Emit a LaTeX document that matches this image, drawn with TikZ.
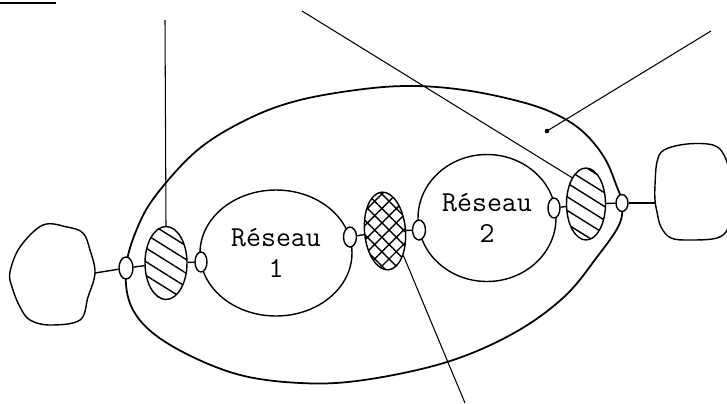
\documentclass[tikz,border=0pt]{standalone}
\usepackage{fontspec}
\usetikzlibrary{shapes.geometric, patterns.meta}

\tikzset{
  port/.style={ellipse, draw, fill=white, inner sep=0pt,
    minimum width=0.24cm, minimum height=0.4cm},
  reseau/.style={ellipse, draw, inner sep=0pt, align=center,
    font=\ttfamily\fontsize{16.5}{18}\selectfont},
  hachure/.style={ellipse, draw, inner sep=0pt,
    pattern={Lines[angle=-32, distance=6.6pt, line width=0.8pt]}},
  quadrille/.style={ellipse, draw, inner sep=0pt,
    pattern={Hatch[angle=45, distance=5.8pt, line width=0.8pt]}},
  renvoi/.style={line width=0.6pt}
}

\begin{document}
\begin{tikzpicture}[x=0.02cm, y=-0.02cm, line width=0.8pt]
  \useasboundingbox (0,0) rectangle (727,403);

  % Trait en haut a gauche
  \draw[line width=1.6pt] (0,3) -- (56,3);

  % Enveloppe
  \draw[line width=1pt] plot[smooth cycle, tension=0.6] coordinates {
    (126,268) (139,224) (160,190) (200,148) (250,118) (300,100)
    (364,89) (414,86) (464,90) (514,100) (551,112) (581,130)
    (604,157) (617,187) (622,203) (619,225) (597,257) (564,297)
    (514,333) (447,362) (364,380) (300,383) (233,373) (167,343)
    (133,310)};

  % Nuages aux extremites
  \draw plot[smooth cycle, tension=0.6] coordinates {
    (10,272) (20,247) (43,225) (67,227) (83,233) (90,250) (95,273)
    (88,297) (80,320) (50,325) (30,320) (20,307) (12,287)};
  \coordinate (nuageG) at (95,273);
  \draw plot[smooth cycle, tension=0.6] coordinates {
    (657,162) (664,150) (687,144) (713,145) (724,155) (730,175)
    (732,205) (728,228) (717,238) (690,240) (671,238) (661,227)
    (657,212) (655,200) (655,185)};
  \coordinate (nuageD) at (655,203);

  % Reseaux
  \node[reseau, minimum width=3.04cm, minimum height=2.52cm]
    (res1) at (276,253) {R\'eseau\\1};
  \node[reseau, minimum width=2.76cm, minimum height=2.54cm]
    (res2) at (487,218) {R\'eseau\\2};

  % Elements hachures
  \node[hachure, minimum width=0.84cm, minimum height=1.46cm] (hachG) at (166,263) {};
  \node[hachure, minimum width=0.78cm, minimum height=1.44cm] (hachD) at (586,204) {};
  \node[quadrille, minimum width=0.82cm, minimum height=1.56cm, rotate=5] (croix) at (385,231) {};

  % Ports
  \node[port, minimum width=0.28cm, minimum height=0.44cm] (portG) at (126,268) {};
  \node[port] (p1g) at (201,262) {};
  \node[port, minimum width=0.26cm] (p1d) at (350,237) {};
  \node[port, minimum width=0.26cm] (p2g) at (419,230) {};
  \node[port] (p2d) at (554,208) {};
  \node[port, minimum height=0.34cm] (portD) at (622,203) {};

  % Liaisons
  \draw (nuageG) -- (portG);
  \draw (portG) -- (hachG);
  \draw (hachG) -- (p1g);
  \draw (p1d) -- (croix);
  \draw (croix) -- (p2g);
  \draw (p2d) -- (hachD);
  \draw (hachD) -- (portD);
  \draw (portD) -- (nuageD);

  % Traits de renvoi
  \coordinate (r1) at (165,20);
  \coordinate (r2) at (302,11);
  \coordinate (r3) at (711,31);
  \coordinate (pt3) at (547,131);
  \coordinate (r4) at (465,403);
  \draw[renvoi] (r1) -- (hachG.north);
  \draw[renvoi] (r2) -- (hachD.118);
  \draw[renvoi] (r3) -- (pt3);
  \fill (pt3) circle (1.3pt);
  \draw[renvoi] (croix.-58) -- (r4);
\end{tikzpicture}
\end{document}
